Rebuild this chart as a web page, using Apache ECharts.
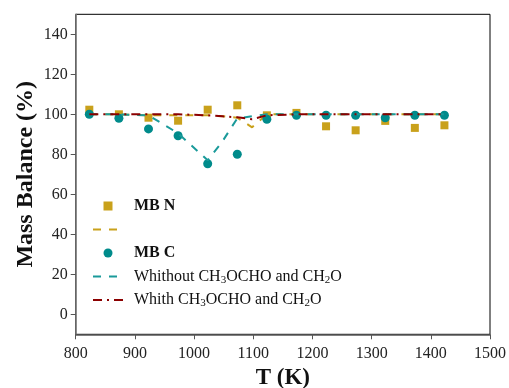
<!DOCTYPE html>
<html>
<head>
<meta charset="utf-8">
<script src="https://cdn.jsdelivr.net/npm/echarts@6/dist/echarts.min.js"></script>
<style>
  html, body { margin: 0; padding: 0; background: #fff; }
  #chart { width: 509px; height: 388px; }
</style>
</head>
<body>
<div id="chart"></div>
<script>
// measured points
const tExp = [823, 873, 923, 973, 1023, 1073, 1123, 1173, 1223, 1273, 1323, 1373, 1423];
const mbN = [102.3, 100, 98.3, 96.8, 102.3, 104.5, 99.5, 100.7, 94, 92, 96.7, 93.2, 94.5];
const mbC = [100, 98, 92.7, 89.3, 75.3, 80, 97.5, 99.5, 99.5, 99.5, 98.3, 99.5, 99.5];

// model curves
const tSim = [823, 873, 923, 973, 1023, 1048, 1073, 1098, 1123, 1173, 1223, 1273, 1323, 1373, 1423];
const simN = [100, 100, 99.5, 99.5, 99.5, 99, 98.3, 93.5, 100, 100, 100, 100, 100, 100, 100];
const simWithout = [100, 100, 99.5, 90.5, 77, 86.5, 98, 99, 100, 100, 100, 100, 100, 100, 100];
const simWith = [100, 100, 100, 100, 99.5, 99, 98.5, 97.5, 99.5, 100, 100, 100, 100, 100, 100];

const yTicks = [0, 20, 40, 60, 80, 100, 120, 140];

const FONT = 'Liberation Serif, Times New Roman, serif';
const GOLD = '#c9a11b';
const TEAL = '#008b8b';
const TEAL_LINE = '#1a9a9a';
const DARKRED = '#8b0000';

const pairs = (xs, ys) => xs.map((x, i) => [x, ys[i]]);

const chart = echarts.init(document.getElementById('chart'));

const subRich = {
  n: { fontSize: 16, fontFamily: FONT, color: '#111', lineHeight: 18 },
  s: { fontSize: 11, fontFamily: FONT, color: '#111', lineHeight: 13, verticalAlign: 'bottom', padding: [6, 0, 0, 0] }
};

// line entries in the legend: hide the marker dot, keep the dashed line
const noDot = { color: 'rgba(0,0,0,0)', borderWidth: 0 };

chart.setOption({
  animation: false,
  backgroundColor: '#fff',
  grid: {
    left: 75.7, right: 19, top: 14.3, bottom: 53.7,
    outerBoundsMode: 'none',
    show: true, borderColor: '#000', borderWidth: 1
  },
  legend: {
    orient: 'vertical',
    left: 87, top: 192,
    itemWidth: 30, itemHeight: 9,
    itemGap: 5.5,
    symbolKeepAspect: true,
    textStyle: { fontFamily: FONT, fontSize: 16, color: '#111', lineHeight: 18, padding: [0, 0, 0, 6], rich: subRich },
    formatter: name => {
      if (name === 'Whithout') return '{n|Whithout CH}{s|3}{n|OCHO and CH}{s|2}{n|O}';
      if (name === 'Whith') return '{n|Whith CH}{s|3}{n|OCHO and CH}{s|2}{n|O}';
      return name;
    },
    data: [
      { name: 'MB N', icon: 'path://M0,0h10v10h-10z', textStyle: { fontWeight: 'bold' } },
      { name: ' ', itemStyle: noDot },
      { name: 'MB C', icon: 'circle', textStyle: { fontWeight: 'bold' } },
      { name: 'Whithout', itemStyle: noDot },
      { name: 'Whith', itemStyle: noDot }
    ]
  },
  xAxis: {
    type: 'value', min: 800, max: 1500, interval: 100,
    name: 'T (K)', nameLocation: 'middle', nameGap: 32,
    nameTextStyle: { fontFamily: FONT, fontSize: 23, fontWeight: 'bold', color: '#111' },
    axisLine: { onZero: false, lineStyle: { color: '#555', width: 1.5 } },
    axisTick: { show: true, inside: false, length: 5, lineStyle: { color: '#555' } },
    axisLabel: { fontFamily: FONT, fontSize: 16, color: '#222', margin: 11, formatter: v => String(v) },
    splitLine: { show: false }
  },
  yAxis: {
    type: 'value', min: -10, max: 150,
    name: 'Mass Balance (%)', nameLocation: 'middle', nameGap: 38,
    nameMoveOverlap: false,
    nameTextStyle: { fontFamily: FONT, fontSize: 24, fontWeight: 'bold', color: '#111' },
    axisLine: { show: true, onZero: false, lineStyle: { color: '#777', width: 1.5 } },
    axisTick: { show: true, inside: false, length: 5, customValues: yTicks, lineStyle: { color: '#555' } },
    axisLabel: { fontFamily: FONT, fontSize: 16, color: '#222', margin: 8, customValues: yTicks },
    splitLine: { show: false }
  },
  series: [
    {
      name: 'MB N', type: 'scatter', data: pairs(tExp, mbN),
      symbol: 'rect', symbolSize: 8, itemStyle: { color: GOLD, opacity: 1 }, z: 2
    },
    {
      name: ' ', type: 'line', data: pairs(tSim, simN), symbol: 'none',
      lineStyle: { color: GOLD, width: 2, type: [8, 8] }, itemStyle: { color: GOLD }, z: 3
    },
    {
      name: 'MB C', type: 'scatter', data: pairs(tExp, mbC),
      symbol: 'circle', symbolSize: 9, itemStyle: { color: TEAL, opacity: 1 }, z: 4
    },
    {
      name: 'Whithout', type: 'line', data: pairs(tSim, simWithout), symbol: 'none',
      lineStyle: { color: TEAL_LINE, width: 2, type: [8, 8] }, itemStyle: { color: TEAL_LINE }, z: 5
    },
    {
      name: 'Whith', type: 'line', data: pairs(tSim, simWith), symbol: 'none',
      lineStyle: { color: DARKRED, width: 2, type: [9, 5, 2, 5] }, itemStyle: { color: DARKRED }, z: 6
    }
  ]
});
</script>
</body>
</html>
